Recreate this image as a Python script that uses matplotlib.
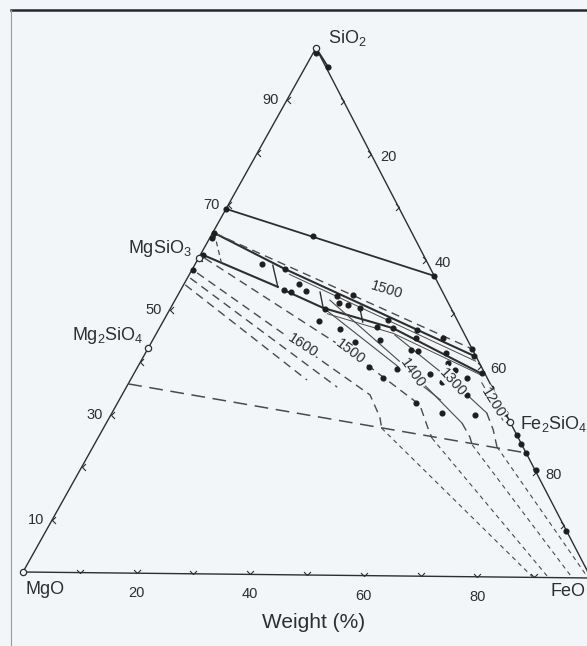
import numpy as np
import matplotlib.pyplot as plt
from matplotlib.path import Path

plt.rcParams['font.family'] = ['Liberation Sans Narrow', 'DejaVu Sans Condensed',
                               'Liberation Sans', 'DejaVu Sans']
plt.rcParams['mathtext.default'] = 'regular'

# where the three corners sit on the scanned page (pixels)
MGO_XY = (23, 572)
FEO_XY = (591, 578)
SIO2_XY = (316, 48)


def tern(feo, sio2):
    # wt% FeO, wt% SiO2 -> page position (MgO is the rest)
    feo = np.asarray(feo, float) / 100
    sio2 = np.asarray(sio2, float) / 100
    mgo = 1 - feo - sio2
    x = mgo * MGO_XY[0] + feo * FEO_XY[0] + sio2 * SIO2_XY[0]
    y = mgo * MGO_XY[1] + feo * FEO_XY[1] + sio2 * SIO2_XY[1]
    return x, y


# ---- data (wt% FeO, wt% SiO2) ----
tick_vals = [10, 20, 30, 40, 50, 60, 70, 80, 90]
left_labels = [10, 30, 50, 70, 90]
right_labels = [20, 40, 60, 80]
base_labels = [20, 40, 60, 80]

line70_feo = [0, 43.0]
line70_sio2 = [69.3, 57.0]

apex_feo = [0, 4.0]
apex_sio2 = [100, 96.4]

bigdash_feo = [0, 76.4]
bigdash_sio2 = [35.9, 23.6]

iso_a_feo = [0.3, 30.9]
iso_a_sio2 = [54.8, 37.0]
iso_b_feo = [0.5, 36.9]
iso_b_sio2 = [56.1, 35.7]

iso1600_feo = [1.2, 43.4, 47.3, 48.7]
iso1600_sio2 = [57.1, 34.3, 30.1, 28.0]
iso1600_low_feo = [48.7, 89.8]
iso1600_low_sio2 = [28.0, 0]

iso1500_feo = [1.1, 35.7, 53.1, 56.8, 58.5]
iso1500_sio2 = [59.9, 42.4, 32.5, 28.1, 26.2]
iso1500_low_feo = [58.5, 92.5]
iso1500_low_sio2 = [26.2, 0]

iso1400_feo = [27.1, 48.8, 62.3]
iso1400_sio2 = [52.2, 38.5, 29.1]
iso1400_bend_feo = [62.3, 65.0, 66.2]
iso1400_bend_sio2 = [29.1, 26.5, 25.0]
iso1400_low_feo = [66.2, 96.7]
iso1400_low_sio2 = [25.0, 0]

iso1300_feo = [41.9, 56.7, 65.6]
iso1300_sio2 = [45.7, 36.9, 31.1]
iso1300_bend_feo = [65.6, 68.4, 70.7]
iso1300_bend_sio2 = [31.1, 27.9, 24.7]
iso1300_low_feo = [70.7, 99.5]
iso1300_low_sio2 = [24.7, 0]

iso1200_feo = [61.8, 69.1]
iso1200_sio2 = [36.8, 29.8]

mid_feo = [27.1, 56.2]
mid_sio2 = [50.5, 33.5]

upper1500_feo = [0.3, 56.8]
upper1500_sio2 = [64.7, 43.2]

band_a_feo = [0.3, 16.2, 57.8]
band_a_sio2 = [64.7, 58.0, 41.9]
band_a2_feo = [17.5, 58.6]
band_a2_sio2 = [57.0, 40.9]
band_b_feo = [0.5, 16.7]
band_b_sio2 = [60.5, 54.6]
band_c_feo = [18.1, 26.7, 40.9, 60.5]
band_c_sio2 = [54.0, 50.7, 47.0, 38.7]
band_c2_feo = [28.0, 41.5, 60.6]
band_c2_sio2 = [49.6, 46.0, 38.4]
zig_feo = [[13.7, 16.7], [24.6, 26.7], [33.1, 35.0]]
zig_sio2 = [[58.7, 54.6], [53.7, 50.7], [50.8, 48.1]]
steep_feo = [0.3, 4.8]
steep_sio2 = [64.7, 58.6]

dot_feo = [0, 17.9, 43.0, 0.3, 0.4, 0.5, 0.2, 11.7, 16.2, 18.1, 19.5, 20.1,
           22.0, 27.9, 30.6, 29.0, 30.8, 33.1, 27.1, 27.2, 31.7, 38.0, 39.2,
           40.9, 45.3, 50.6, 39.8, 46.2, 47.5, 45.9, 52.6, 56.8, 57.8, 60.9,
           40.5, 44.0, 45.6, 50.6, 54.7, 53.9, 55.8, 60.4, 52.2, 57.8, 63.7,
           68.8, 51.9, 58.7, 63.9, 73.1, 74.6, 76.4, 79.8, 91.0, 0.5, 4.0,
           35.6]
dot_sio2 = [69.3, 64.3, 57.0, 64.7, 63.7, 60.5, 57.6, 58.9, 58.0, 54.0, 53.7,
            55.2, 53.9, 53.0, 53.2, 51.7, 51.3, 50.8, 50.5, 48.2, 46.7, 47.2,
            48.5, 47.0, 46.7, 45.2, 44.7, 42.9, 42.7, 45.2, 42.4, 43.2, 41.9,
            38.7, 39.6, 37.5, 39.3, 36.6, 36.9, 40.5, 39.2, 34.5, 32.9, 31.0,
            30.7, 31.1, 38.4, 37.7, 35.8, 27.0, 25.3, 23.6, 20.4, 8.9, 99.0,
            96.4, 44.3]

# open circles: corners and compounds
comp_names = ['MgO', 'FeO', 'SiO$_2$', 'MgSiO$_3$', 'Mg$_2$SiO$_4$', 'Fe$_2$SiO$_4$']
comp_feo = [0, 100, 0, 0, 0, 70.5]
comp_sio2 = [0, 0, 100, 59.9, 42.7, 29.5]

iso_labels = ['1600', '1500', '1400', '1300', '1200', '1500']
iso_lab_feo = [26.8, 35.7, 48.8, 56.7, 65.7, 36.1]
iso_lab_sio2 = [43.6, 42.4, 38.5, 36.9, 33.0, 54.2]
iso_lab_rot = [-33, -37, -55, -48, -58, -17]

BG = '#f3f6f8'
INK = '#2e2e2e'
GREY = '#4a4a4a'

fig = plt.figure(figsize=(5.87, 6.46), dpi=100, facecolor=BG)
ax = fig.add_axes([0, 0, 1, 1])
ax.set_facecolor(BG)
ax.set_xlim(0, 587)
ax.set_ylim(646, 0)
ax.axis('off')

# page frame of the scan
ax.plot([11, 587], [9.5, 9.5], color='#2a2433', lw=1.8)
ax.plot([11, 11], [9.5, 646], color='#9a9a9a', lw=0.8)

# triangle
ex, ey = tern([0, 100, 0, 0], [0, 0, 100, 0])
ax.plot(ex, ey, color=INK, lw=1.0)

# chevron ticks on the three edges
chev_left = Path([(1, 1), (0, 0), (1, -1)], [Path.MOVETO, Path.LINETO, Path.LINETO])
chev_right = Path([(-1, 1), (0, 0), (-1, -1)], [Path.MOVETO, Path.LINETO, Path.LINETO])
chev_base = Path([(-1, 1), (0, 0), (1, 1)], [Path.MOVETO, Path.LINETO, Path.LINETO])
tv = np.array(tick_vals)
for (fx, sx), mk in [((0 * tv, tv), chev_left), ((tv, 100 - tv), chev_right),
                      ((tv, 0 * tv), chev_base)]:
    px, py = tern(fx, sx)
    ax.plot(px, py, ls='none', marker=mk, ms=5, mew=0.8, mec=INK, mfc='none')

# tick labels
for v in left_labels:
    px, py = tern(0, v)
    ax.text(px - 8, py, str(v), ha='right', va='center', fontsize=10.5, color=INK)
for v in right_labels:
    px, py = tern(v, 100 - v)
    ax.text(px + 9, py + 3, str(v), ha='left', va='center', fontsize=10.5, color=INK)
for v in base_labels:
    px, py = tern(v, 0)
    ax.text(px, py + 20, str(v), ha='center', va='center', fontsize=10.5, color=INK)

# heavy lines
ax.plot(*tern(line70_feo, line70_sio2), color=INK, lw=1.3)
ax.plot(*tern(apex_feo, apex_sio2), color=INK, lw=1.3)
ax.plot(*tern(band_a_feo, band_a_sio2), color=INK, lw=1.5)
ax.plot(*tern(band_b_feo, band_b_sio2), color=INK, lw=1.5)
ax.plot(*tern(band_c_feo, band_c_sio2), color=INK, lw=1.5)
ax.plot(*tern(band_a2_feo, band_a2_sio2), color=GREY, lw=0.7)
ax.plot(*tern(band_c2_feo, band_c2_sio2), color=GREY, lw=0.7)
for zf, zs in zip(zig_feo, zig_sio2):
    ax.plot(*tern(zf, zs), color=INK, lw=1.0)

# dashed boundaries and isotherms
ax.plot(*tern(bigdash_feo, bigdash_sio2), color=GREY, lw=1.1, dashes=(9, 5))
ax.plot(*tern(upper1500_feo, upper1500_sio2), color=GREY, lw=1.0, dashes=(6, 4))
ax.plot(*tern(steep_feo, steep_sio2), color=GREY, lw=0.9, dashes=(4, 3))
for f, s in [(iso_a_feo, iso_a_sio2), (iso_b_feo, iso_b_sio2),
             (iso1600_feo, iso1600_sio2), (iso1500_feo, iso1500_sio2),
             (iso1400_bend_feo, iso1400_bend_sio2),
             (iso1300_bend_feo, iso1300_bend_sio2)]:
    ax.plot(*tern(f, s), color=GREY, lw=1.0, dashes=(6, 4))
for f, s in [(iso1600_low_feo, iso1600_low_sio2), (iso1500_low_feo, iso1500_low_sio2),
             (iso1400_low_feo, iso1400_low_sio2), (iso1300_low_feo, iso1300_low_sio2)]:
    ax.plot(*tern(f, s), color=GREY, lw=0.8, dashes=(4, 3.5))

# thin solid isotherms
for f, s in [(iso1400_feo, iso1400_sio2), (iso1300_feo, iso1300_sio2),
             (iso1200_feo, iso1200_sio2), (mid_feo, mid_sio2)]:
    ax.plot(*tern(f, s), color=GREY, lw=0.8)

# isotherm labels
for lab, f, s, r in zip(iso_labels, iso_lab_feo, iso_lab_sio2, iso_lab_rot):
    px, py = tern(f, s)
    ax.text(px, py, lab, ha='center', va='center', rotation=r, fontsize=10.5,
            color=INK, rotation_mode='anchor',
            bbox=dict(boxstyle='square,pad=0.05', fc=BG, ec='none'))

# experimental points
ax.plot(*tern(dot_feo, dot_sio2), ls='none', marker='o', ms=3.4, color='#1e1e1e')

# open circles at compounds
ax.plot(*tern(comp_feo, comp_sio2), ls='none', marker='o', ms=4.5, mfc=BG,
        mec=INK, mew=0.9)

# compound names
name_off = [(22, 18, 'center'), (-23, 14, 'center'), (12, -10, 'left'),
            (-7, -10, 'right'), (-5, -13, 'right'), (10, 2, 'left')]
for nm, f, s, (dx, dy, ha) in zip(comp_names, comp_feo, comp_sio2, name_off):
    px, py = tern(f, s)
    ax.text(px + dx, py + dy, nm, ha=ha, va='center', fontsize=13, color=INK)

bx, by = tern(50, 0)
ax.text(bx + 7, by + 48, 'Weight (%)', ha='center', va='center', fontsize=15,
        color=INK)

fig.savefig('out.png', dpi=100, facecolor=BG)
